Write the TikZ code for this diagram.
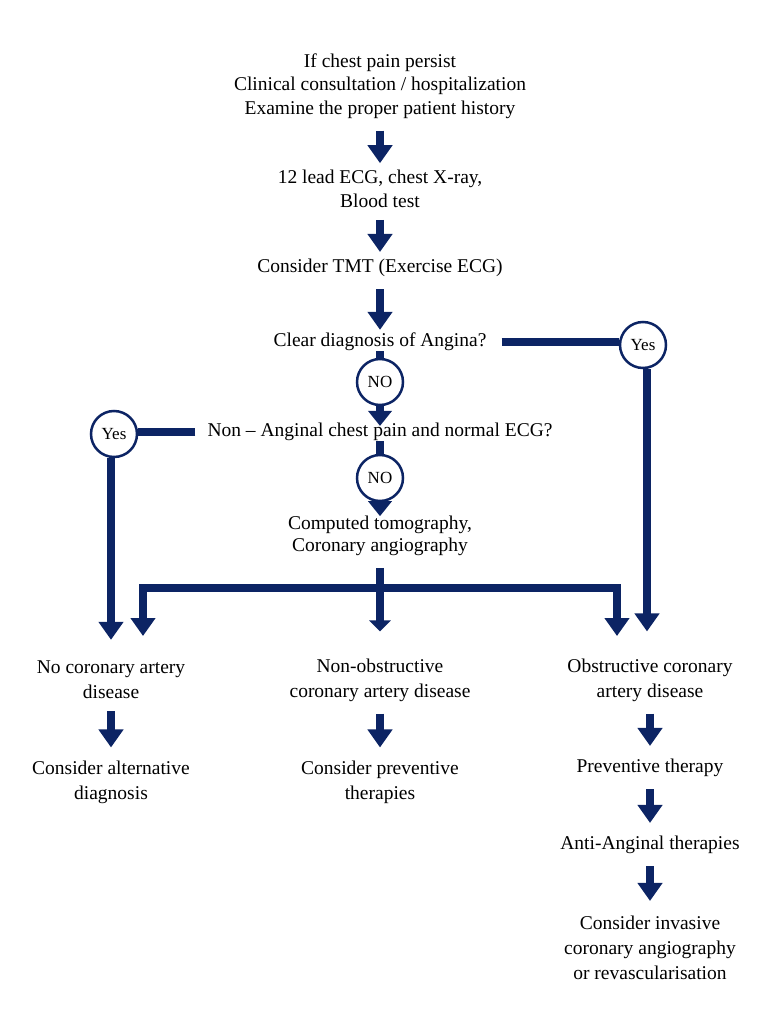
\documentclass[tikz,border=0pt]{standalone}
\usepackage{fontspec}
\setmainfont{Liberation Serif}
\usetikzlibrary{arrows.meta}
\definecolor{azul}{RGB}{12,36,100}

\tikzset{
  estilo flujo/.style={
      x=1pt, y=-1pt,
      texto/.style={align=center, inner sep=0pt, font={\fontsize{19.5}{23.5}\selectfont}},
      abajo/.style={texto, font={\fontsize{19.5}{25}\selectfont}},
      barra/.style={draw=azul, line width=8.5pt},
      flecha/.style={barra, -{Triangle[width=24pt,length=18pt]}, shorten <=12pt, shorten >=7pt},
      circulo/.style={circle, draw=azul, fill=white, line width=2.5pt, minimum size=46pt,
        inner sep=0pt, font={\fontsize{17}{19}\selectfont}},
    },
}

\begin{document}
\begin{tikzpicture}[estilo flujo]
    \useasboundingbox (0,0) rectangle (767,1024);

    \node[texto] (inicio) at (380,86) {If chest pain persist\\Clinical consultation / hospitalization\\Examine the proper patient history};
    \node[texto] (ecg) at (380,189) {12 lead ECG, chest X-ray,\\Blood test};
    \node[texto] (tmt) at (380,268) {Consider TMT (Exercise ECG)};
    \node[texto] (angina) at (380,342) {Clear diagnosis of Angina?};
    \node[circulo] (no1) at (380,382) {NO};
    \node[circulo] (si1) at (643,345) {Yes};
    \node[texto] (noang) at (380,432) {Non -- Anginal chest pain and normal ECG?};
    \node[circulo] (si2) at (114,434) {Yes};
    \node[circulo] (no2) at (380,478) {NO};
    \node[texto, font={\fontsize{19.5}{21.5}\selectfont}] (tac) at (380,536) {Computed tomography,\\Coronary angiography};
    \coordinate (reparto) at (380,588);
    \coordinate (izq) at (143,636);
    \coordinate (der) at (617,636);

    \node[abajo] (sinenf) at (111,680) {No coronary artery\\disease};
    \node[abajo] (noobs) at (380,680) {Non-obstructive\\coronary artery disease};
    \node[abajo] (obs) at (650,680) {Obstructive coronary\\artery disease};
    \node[abajo] (alt) at (111,782) {Consider alternative\\diagnosis};
    \node[abajo] (prev) at (380,782) {Consider preventive\\therapies};
    \node[abajo] (terap) at (650,768) {Preventive therapy};
    \node[abajo] (antiang) at (650,845) {Anti-Anginal therapies};
    \node[abajo] (inv) at (650,948) {Consider invasive\\coronary angiography\\or revascularisation};

    \draw[flecha] (inicio) -- (ecg);
    \draw[flecha] (ecg) -- (tmt);
    \draw[flecha, shorten >=3pt] (tmt) -- (angina);
    \draw[barra] (angina.south) -- (no1.north);
    \draw[flecha, -{Triangle[width=23pt,length=15pt]}, shorten <=0pt, shorten >=-3pt] (no1.south) -- (noang.north);
    \draw[barra, shorten <=15pt] (angina.east) -- (angina.east -| si1.west);
    \draw[flecha, shorten <=0pt, shorten >=27pt] ([xshift=4pt]si1.south) -- ([xshift=4pt]si1.south |- obs.north);
    \draw[barra, shorten <=12pt] (noang.west) -- (noang.west -| si2.east);
    \draw[flecha, shorten <=0pt, shorten >=21pt] ([xshift=-3pt]si2.south) -- ([xshift=-3pt]si2.south |- sinenf.north);
    \draw[barra] (noang.south) -- (no2.north);
    \draw[flecha, -{Triangle[width=23pt,length=15pt]}, shorten <=0pt, shorten >=0pt] (no2.south) -- (tac.north);
    \draw[flecha, -{Triangle[width=21pt,length=11pt]}, shorten >=27pt] (tac.south) -- (tac.south |- noobs.north);
    \draw[flecha, shorten <=0pt, shorten >=0pt] (reparto) -| (izq);
    \draw[flecha, shorten <=0pt, shorten >=0pt] (reparto) -| (der);

    \draw[flecha, shorten >=13pt] (sinenf) -- (alt);
    \draw[flecha, shorten >=13pt] (noobs) -- (prev);
    \draw[flecha, shorten >=13pt] (obs) -- (terap);
    \draw[flecha, shorten >=13pt] (terap) -- (antiang);
    \draw[flecha, shorten >=15pt] (antiang) -- (inv);
  \end{tikzpicture}
\end{document}
